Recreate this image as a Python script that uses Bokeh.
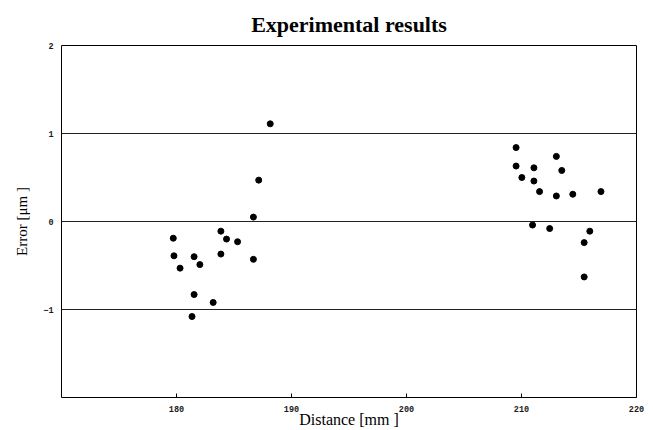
from bokeh.plotting import figure
from bokeh.models import Range1d, FixedTicker, ColumnDataSource, Title
from bokeh.embed import file_html
from bokeh.resources import INLINE

# Data
distance_mm = [179.72, 179.78, 180.31, 181.53, 182.03, 181.53, 181.35, 183.19,
               183.86, 183.86, 184.35, 185.31, 186.69, 186.69, 187.15, 188.15,
               209.53, 213.03, 209.53, 211.08, 213.50, 210.03, 211.08, 211.57,
               213.03, 214.46, 216.91, 210.96, 212.45, 215.94, 215.45, 215.45]
error_um = [-0.19, -0.39, -0.53, -0.40, -0.49, -0.83, -1.08, -0.92,
            -0.11, -0.37, -0.20, -0.23, 0.05, -0.43, 0.47, 1.11,
            0.84, 0.74, 0.63, 0.61, 0.58, 0.50, 0.46, 0.34,
            0.29, 0.31, 0.34, -0.04, -0.08, -0.11, -0.24, -0.63]
x_ticks = [180, 190, 200, 210, 220]
y_ticks = [-1, 0, 1, 2]
title_text = "Experimental results"
x_title = "Distance [mm ]"
y_title = "Error [\u03bcm ]"

src = ColumnDataSource(dict(x=distance_mm, y=error_um))

serif = "Liberation Serif"
p = figure(width=653, height=430, output_backend="svg", toolbar_location=None,
           x_range=Range1d(170, 220), y_range=Range1d(-2, 2),
           min_border_left=61, min_border_right=17, min_border_top=44,
           min_border_bottom=32)
p.title = Title(text=title_text, align="center", text_font=serif,
                text_font_style="bold", text_font_size="22px",
                text_color="#000000", standoff=18)
p.background_fill_color = "white"
p.border_fill_color = "white"
p.outline_line_color = "black"
p.outline_line_width = 1

# axes
tick_font = "Liberation Mono"
p.xaxis.ticker = FixedTicker(ticks=x_ticks)
p.yaxis.ticker = FixedTicker(ticks=y_ticks)
for ax in (p.xaxis[0], p.yaxis[0]):
    ax.axis_line_color = None
    ax.minor_tick_line_color = None
    ax.major_label_text_font = tick_font
    ax.major_label_text_font_size = "8.5px"
    ax.major_label_text_font_style = "bold"
    ax.major_label_text_color = "#1a1a1a"
    ax.axis_label_text_font = serif
    ax.axis_label_text_font_style = "normal"
p.xaxis.axis_label = x_title
p.xaxis.axis_label_text_color = "#000000"
p.xaxis.axis_label_text_font_size = "16px"
p.xaxis.axis_label_standoff = -4
p.xaxis.major_tick_in = 4
p.xaxis.major_tick_out = 0
p.xaxis.major_tick_line_color = "black"
p.xaxis.major_label_standoff = 8

p.yaxis.axis_label = y_title
p.yaxis.axis_label_text_color = "#000000"
p.yaxis.axis_label_text_font_size = "15px"
p.yaxis.axis_label_standoff = 10
p.yaxis.major_tick_in = 0
p.yaxis.major_tick_out = 0
p.yaxis.major_label_standoff = 8

p.xgrid.grid_line_color = None
p.ygrid.grid_line_color = "#222222"
p.ygrid.grid_line_width = 1

p.scatter("x", "y", source=src, size=6, marker="circle",
          fill_color="black", line_color="black")

open("out.html", "w").write(file_html(p, INLINE))
